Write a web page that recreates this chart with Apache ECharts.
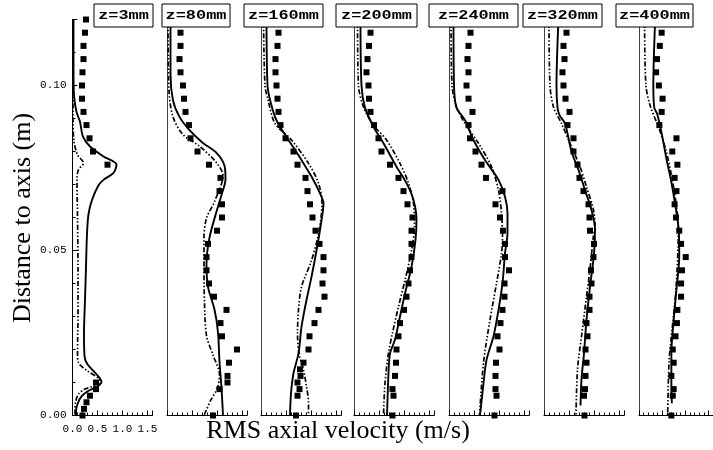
<!DOCTYPE html>
<html>
<head>
<meta charset="utf-8">
<script src="https://cdn.jsdelivr.net/npm/echarts@6/dist/echarts.min.js"></script>
<style>
  html, body { margin: 0; padding: 0; background: #fff; }
  #chart { width: 713px; height: 450px; }
</style>
</head>
<body>
<div id="chart"></div>
<script>
// measured depths (m) of the experimental points
const depth3 = [0.120, 0.116, 0.112, 0.108, 0.104, 0.100, 0.096, 0.092, 0.088, 0.084, 0.080, 0.076, 0.010, 0.008, 0.006, 0.004, 0.002, 0.000];
const depth80 = [0.116, 0.112, 0.108, 0.104, 0.100, 0.096, 0.092, 0.088, 0.084, 0.080, 0.076, 0.072, 0.068, 0.064, 0.060, 0.056, 0.052, 0.048, 0.044, 0.040, 0.036, 0.032, 0.028, 0.024, 0.020, 0.016, 0.012, 0.010, 0.008, 0.000];
const depth160 = [0.116, 0.112, 0.108, 0.104, 0.100, 0.096, 0.092, 0.088, 0.084, 0.080, 0.076, 0.072, 0.068, 0.064, 0.060, 0.056, 0.052, 0.048, 0.044, 0.040, 0.036, 0.032, 0.028, 0.024, 0.020, 0.016, 0.014, 0.012, 0.010, 0.008, 0.006, 0.000];
const depthStd = [0.116, 0.112, 0.108, 0.104, 0.100, 0.096, 0.092, 0.088, 0.084, 0.080, 0.076, 0.072, 0.068, 0.064, 0.060, 0.056, 0.052, 0.048, 0.044, 0.040, 0.036, 0.032, 0.028, 0.024, 0.020, 0.016, 0.012, 0.008, 0.006, 0.000];

// experimental rms velocity (m/s), same order as the depths
const rms3 = [0.27, 0.25, 0.22, 0.22, 0.20, 0.19, 0.19, 0.22, 0.28, 0.34, 0.41, 0.70, 0.47, 0.47, 0.35, 0.28, 0.23, 0.20];
const rms80 = [0.27, 0.27, 0.25, 0.27, 0.32, 0.34, 0.37, 0.44, 0.47, 0.61, 0.84, 1.07, 1.05, 1.10, 1.10, 1.00, 0.82, 0.79, 0.79, 0.84, 0.94, 1.19, 1.07, 1.10, 1.40, 1.24, 1.21, 1.21, 1.05, 0.92];
const rms160 = [0.35, 0.33, 0.29, 0.29, 0.31, 0.33, 0.35, 0.39, 0.49, 0.65, 0.73, 0.89, 0.93, 0.98, 1.03, 1.09, 1.17, 1.25, 1.25, 1.23, 1.27, 1.15, 1.07, 0.97, 0.95, 0.85, 0.78, 0.79, 0.73, 0.77, 0.73, 0.70];
const rms200 = [0.33, 0.30, 0.27, 0.25, 0.29, 0.30, 0.33, 0.40, 0.49, 0.55, 0.72, 0.89, 0.99, 1.07, 1.17, 1.15, 1.15, 1.15, 1.12, 1.09, 1.05, 1.00, 0.92, 0.89, 0.85, 0.84, 0.82, 0.77, 0.79, 0.77];
const rms240 = [0.43, 0.39, 0.37, 0.39, 0.35, 0.39, 0.47, 0.39, 0.42, 0.53, 0.65, 0.74, 1.07, 0.93, 1.02, 1.08, 1.12, 1.12, 1.20, 1.11, 1.11, 1.07, 1.03, 0.97, 1.01, 0.94, 0.93, 0.93, 0.95, 0.91];
const rms320 = [0.45, 0.39, 0.41, 0.37, 0.39, 0.43, 0.51, 0.47, 0.59, 0.59, 0.67, 0.71, 0.79, 0.89, 0.91, 0.92, 1.00, 0.99, 0.94, 0.95, 0.91, 0.91, 0.85, 0.87, 0.83, 0.85, 0.83, 0.82, 0.80, 0.81];
const rms400 = [0.49, 0.45, 0.39, 0.37, 0.43, 0.51, 0.49, 0.44, 0.81, 0.72, 0.83, 0.77, 0.81, 0.77, 0.80, 0.87, 0.91, 1.01, 0.93, 0.91, 0.91, 0.83, 0.82, 0.79, 0.73, 0.75, 0.70, 0.75, 0.73, 0.70];

// simulation profiles [rms velocity, depth]
const solid3 = [[0.02, 0.120], [0.02, 0.105], [0.03, 0.097], [0.08, 0.092], [0.15, 0.089], [0.21, 0.0845], [0.35, 0.0815], [0.62, 0.0785], [0.88, 0.076], [0.82, 0.0735], [0.62, 0.0714], [0.52, 0.0698], [0.39, 0.0653], [0.32, 0.061], [0.29, 0.055], [0.27, 0.045], [0.25, 0.035], [0.23, 0.025], [0.24, 0.018], [0.30, 0.0155], [0.48, 0.0125], [0.58, 0.0102], [0.50, 0.0088], [0.32, 0.0075], [0.18, 0.0058], [0.10, 0.0035], [0.07, 0.0012], [0.07, 0]];
const dashed3 = [[0.01, 0.120], [0.01, 0.090], [0.03, 0.083], [0.10, 0.079], [0.22, 0.0765], [0.12, 0.0745], [0.09, 0.072], [0.10, 0.060], [0.11, 0.045], [0.11, 0.030], [0.10, 0.019], [0.12, 0.016], [0.30, 0.0135], [0.50, 0.0115], [0.57, 0.0100], [0.45, 0.0090], [0.25, 0.0080], [0.12, 0.0065], [0.06, 0.0040], [0.05, 0.002], [0.05, 0]];
const solid80 = [[0.07, 0.120], [0.07, 0.1034], [0.12, 0.0955], [0.25, 0.0905], [0.45, 0.0865], [0.72, 0.0826], [0.99, 0.0796], [1.15, 0.0757], [1.17, 0.0717], [1.09, 0.0668], [0.99, 0.0618], [0.85, 0.0539], [0.79, 0.046], [0.82, 0.039], [0.95, 0.0321], [1.02, 0.0252], [1.05, 0.0163], [1.09, 0.0084], [1.12, 0]];
const dashed80 = [[0.02, 0.120], [0.04, 0.0984], [0.12, 0.0905], [0.32, 0.0851], [0.65, 0.0816], [0.99, 0.0766], [1.12, 0.0727], [0.95, 0.0648], [0.79, 0.0598], [0.74, 0.0539], [0.74, 0.044], [0.75, 0.0341], [0.79, 0.0242], [0.92, 0.0183], [1.05, 0.0124], [1.01, 0.0084], [0.87, 0.0045], [0.74, 0]];
const solid160 = [[0.11, 0.120], [0.13, 0.100], [0.18, 0.0957], [0.28, 0.0905], [0.38, 0.0875], [0.55, 0.0835], [0.81, 0.0774], [1.01, 0.0724], [1.18, 0.0673], [1.25, 0.0643], [1.19, 0.0572], [1.11, 0.050], [1.01, 0.042], [0.91, 0.035], [0.81, 0.0269], [0.75, 0.0188], [0.65, 0.0128], [0.60, 0.0067], [0.58, 0]];
const dashed160 = [[0.05, 0.120], [0.08, 0.100], [0.14, 0.0957], [0.28, 0.0885], [0.61, 0.0835], [0.95, 0.0764], [1.15, 0.0704], [1.22, 0.0643], [1.15, 0.055], [1.01, 0.047], [0.81, 0.039], [0.75, 0.032], [0.73, 0.025], [0.76, 0.0188], [0.85, 0.0138], [0.91, 0.0088], [0.95, 0.004], [0.95, 0]];
const solid200 = [[0.13, 0.120], [0.15, 0.100], [0.22, 0.0933], [0.39, 0.0875], [0.59, 0.0825], [0.85, 0.0754], [1.05, 0.0704], [1.19, 0.0653], [1.25, 0.0593], [1.23, 0.0532], [1.15, 0.045], [1.02, 0.037], [0.92, 0.030], [0.82, 0.023], [0.72, 0.0188], [0.69, 0.0128], [0.67, 0.0047], [0.66, 0]];
const dashed200 = [[0.07, 0.120], [0.09, 0.100], [0.19, 0.0935], [0.39, 0.088], [0.65, 0.0835], [0.92, 0.0764], [1.09, 0.0704], [1.19, 0.0643], [1.21, 0.0572], [1.15, 0.050], [1.02, 0.041], [0.89, 0.033], [0.77, 0.025], [0.69, 0.019], [0.62, 0.0098], [0.59, 0]];
const solid240 = [[0.09, 0.120], [0.10, 0.100], [0.15, 0.0933], [0.32, 0.0895], [0.49, 0.0835], [0.72, 0.0774], [0.99, 0.0714], [1.12, 0.0663], [1.17, 0.0613], [1.17, 0.0553], [1.12, 0.0492], [1.07, 0.0401], [0.99, 0.032], [0.89, 0.024], [0.75, 0.0168], [0.69, 0.0097], [0.62, 0]];
const dashed240 = [[0.04, 0.120], [0.06, 0.100], [0.15, 0.0935], [0.32, 0.0885], [0.59, 0.0825], [0.85, 0.0754], [0.99, 0.0683], [1.05, 0.0613], [1.07, 0.054], [1.05, 0.049], [0.95, 0.040], [0.82, 0.029], [0.69, 0.016], [0.61, 0]];
const solid320 = [[0.29, 0.120], [0.25, 0.100], [0.27, 0.0933], [0.31, 0.091], [0.42, 0.0885], [0.55, 0.080], [0.69, 0.0744], [0.82, 0.0683], [0.95, 0.0623], [1.02, 0.0563], [1.00, 0.0489], [0.92, 0.039], [0.85, 0.029], [0.80, 0.0188], [0.75, 0.011], [0.73, 0.003]];
const dashed320 = [[0.10, 0.120], [0.12, 0.100], [0.19, 0.0935], [0.35, 0.0885], [0.52, 0.0825], [0.72, 0.0754], [0.85, 0.0693], [0.99, 0.0623], [1.02, 0.0573], [0.99, 0.0545], [0.92, 0.0444], [0.85, 0.036], [0.75, 0.024], [0.67, 0.014], [0.64, 0]];
const solid400 = [[0.35, 0.120], [0.31, 0.100], [0.33, 0.0933], [0.39, 0.0915], [0.49, 0.0855], [0.59, 0.078], [0.69, 0.0714], [0.79, 0.0633], [0.86, 0.056], [0.87, 0.0482], [0.81, 0.0382], [0.75, 0.029], [0.70, 0.0188], [0.70, 0.011], [0.71, 0.0037]];
const dashed400 = [[0.12, 0.120], [0.15, 0.100], [0.25, 0.0935], [0.42, 0.0875], [0.59, 0.080], [0.72, 0.0714], [0.81, 0.0633], [0.85, 0.056], [0.80, 0.0384], [0.72, 0.0267], [0.65, 0.0164], [0.62, 0]];

const titles = ['z=3mm', 'z=80mm', 'z=160mm', 'z=200mm', 'z=240mm', 'z=320mm', 'z=400mm'];

const panels = [
    { depth: depth3, rms: rms3, solid: solid3, dashed: dashed3 },
    { depth: depth80, rms: rms80, solid: solid80, dashed: dashed80 },
    { depth: depth160, rms: rms160, solid: solid160, dashed: dashed160 },
    { depth: depthStd, rms: rms200, solid: solid200, dashed: dashed200 },
    { depth: depthStd, rms: rms240, solid: solid240, dashed: dashed240 },
    { depth: depthStd, rms: rms320, solid: solid320, dashed: dashed320 },
    { depth: depthStd, rms: rms400, solid: solid400, dashed: dashed400 },
];

// layout (px)
const panelLeft = [72.5, 167, 261, 354, 449, 544, 639];
const boxX = [[94, 153], [162, 230], [244, 323], [336, 417], [429, 518], [523, 602], [616, 693]];

const onStep = (v, step) => Math.abs(v / step - Math.round(v / step)) < 1e-6;

const chart = echarts.init(document.getElementById('chart'));

const grid = [], xAxis = [], yAxis = [], series = [], graphic = [];

panels.forEach((p, i) => {
    const first = i === 0;
    grid.push({ left: panelLeft[i], top: 19.5, width: 80, height: 396 });

    xAxis.push({
        type: 'value', gridIndex: i, min: 0, max: 1.6, interval: 0.5,
        axisLine: { show: true, onZero: false, lineStyle: { color: '#000', width: 1 } },
        axisTick: { show: true, inside: true, length: 5, lineStyle: { color: '#000' } },
        minorTick: { show: true, splitNumber: 5, length: 3, lineStyle: { color: '#000' } },
        axisLabel: {
            show: first, margin: 8, color: '#000', fontFamily: 'Liberation Mono', fontSize: 11,
            formatter: (v) => onStep(v, 0.5) ? v.toFixed(1) : '',
        },
        splitLine: { show: false },
    });

    yAxis.push({
        type: 'value', gridIndex: i, min: 0, max: 0.12, interval: 0.05,
        axisLine: { show: true, onZero: false, lineStyle: { color: first ? '#000' : '#444', width: 1 } },
        axisTick: { show: first, inside: true, length: 5, lineStyle: { color: '#000' } },
        minorTick: { show: first, splitNumber: 5, length: 3, lineStyle: { color: '#000' } },
        axisLabel: {
            show: first, margin: 6, color: '#000', fontFamily: 'Liberation Mono', fontSize: 11,
            formatter: (v) => onStep(v, 0.05) ? v.toFixed(2) : '',
        },
        splitLine: { show: false },
    });

    series.push({
        type: 'line', xAxisIndex: i, yAxisIndex: i, data: p.solid,
        showSymbol: false, smooth: 0.3, lineStyle: { color: '#000', width: 1.9 },
    });
    series.push({
        type: 'line', xAxisIndex: i, yAxisIndex: i, data: p.dashed,
        showSymbol: false, smooth: 0.3,
        lineStyle: { color: '#000', width: 1.7, type: [5, 2, 1.5, 2, 1.5, 2] },
    });
    series.push({
        type: 'scatter', xAxisIndex: i, yAxisIndex: i,
        data: p.depth.map((d, k) => [p.rms[k], d]),
        symbol: 'rect', symbolSize: 6, itemStyle: { color: '#000', opacity: 1 },
    });

    const b = boxX[i];
    graphic.push({
        type: 'rect', z: 100,
        shape: { x: b[0], y: 4, width: b[1] - b[0], height: 23 },
        style: { fill: '#fff', stroke: '#000', lineWidth: 1 },
    });
    graphic.push({
        type: 'text', z: 101, x: (b[0] + b[1]) / 2, y: 16, scaleX: 1.3,
        style: {
            text: titles[i], font: 'bold 13px "Liberation Mono"', fill: '#000',
            textAlign: 'center', textVerticalAlign: 'middle', verticalAlign: 'middle',
        },
    });
});

graphic.push({
    type: 'text', x: 338, y: 431,
    style: {
        text: 'RMS axial velocity (m/s)', font: '26px "Liberation Serif"', fill: '#000',
        textAlign: 'center', textVerticalAlign: 'middle', verticalAlign: 'middle',
    },
});
graphic.push({
    type: 'text', x: 23, y: 218, rotation: Math.PI / 2,
    style: {
        text: 'Distance to axis (m)', font: '26px "Liberation Serif"', fill: '#000',
        textAlign: 'center', textVerticalAlign: 'middle', verticalAlign: 'middle',
    },
});

chart.setOption({
    animation: false,
    backgroundColor: '#fff',
    grid: grid,
    xAxis: xAxis,
    yAxis: yAxis,
    series: series,
    graphic: graphic,
});
</script>
</body>
</html>
